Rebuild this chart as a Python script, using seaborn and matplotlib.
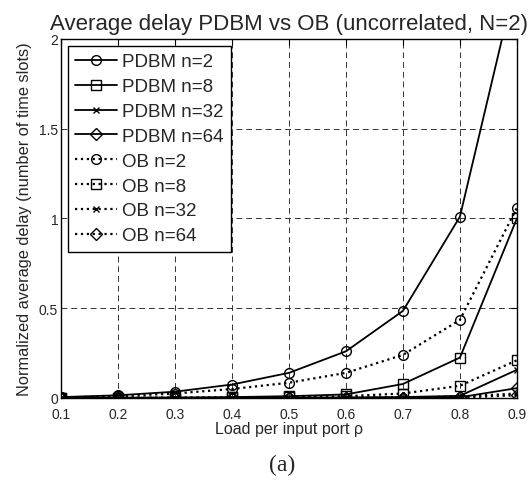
import numpy as np
import pandas as pd
import matplotlib
matplotlib.use("Agg")
import matplotlib.pyplot as plt
import seaborn as sns

sns.set_style("white")
plt.rcParams['font.family'] = ['Liberation Sans', 'DejaVu Sans']

load = [0.1, 0.2, 0.3, 0.4, 0.5, 0.6, 0.7, 0.8, 0.9]
pdbm_n2 = [0.005, 0.015, 0.035, 0.075, 0.14, 0.26, 0.485, 1.01, 2.35]
pdbm_n8 = [0.001, 0.002, 0.003, 0.005, 0.01, 0.02, 0.078, 0.225, 1.0]
pdbm_n32 = [0.0, 0.0, 0.0, 0.001, 0.002, 0.003, 0.005, 0.012, 0.157]
pdbm_n64 = [0.0, 0.0, 0.0, 0.0, 0.001, 0.001, 0.002, 0.004, 0.055]
ob_n2 = [0.003, 0.01, 0.025, 0.05, 0.085, 0.14, 0.24, 0.435, 1.06]
ob_n8 = [0.001, 0.001, 0.002, 0.003, 0.005, 0.01, 0.025, 0.068, 0.21]
ob_n32 = [0.0, 0.0, 0.0, 0.0, 0.001, 0.002, 0.003, 0.008, 0.025]
ob_n64 = [0.0, 0.0, 0.0, 0.0, 0.0, 0.001, 0.001, 0.003, 0.015]

series = [
    ("PDBM n=2", pdbm_n2, "o", "-"),
    ("PDBM n=8", pdbm_n8, "s", "-"),
    ("PDBM n=32", pdbm_n32, "x", "-"),
    ("PDBM n=64", pdbm_n64, "D", "-"),
    ("OB n=2", ob_n2, "o", ":"),
    ("OB n=8", ob_n8, "s", ":"),
    ("OB n=32", ob_n32, "x", ":"),
    ("OB n=64", ob_n64, "D", ":"),
]

fig = plt.figure(figsize=(5.28, 4.81), dpi=100)
ax = fig.add_axes([0.1155, 0.1705, 0.9790 - 0.1155, 0.917 - 0.1705])

for name, vals, mk, ls in series:
    df = pd.DataFrame({"x": load, "y": vals})
    ms = 6 if mk == "D" else (5 if mk == "x" else 7)
    sns.lineplot(data=df, x="x", y="y", ax=ax, color="black", linestyle=ls,
                 marker=mk, markersize=ms, markerfacecolor="none",
                 markeredgecolor="black", markeredgewidth=1.0,
                 linewidth=1.3 if ls == "-" else 1.6, label=name)

ax.set_xlim(0.1, 0.9)
ax.set_ylim(0, 2)
ax.set_xticks(load)
ax.set_xticklabels(["0.1", "0.2", "0.3", "0.4", "0.5", "0.6", "0.7", "0.8", "0.9"])
ax.set_yticks([0, 0.5, 1, 1.5, 2])
ax.set_yticklabels(["0", "0.5", "1", "1.5", "2"])
ax.tick_params(direction="in", length=4, top=True, right=True, labelsize=10,
               color="black", pad=2)
ax.tick_params(axis="x", pad=6.5)
ax.grid(True, color="#333333", linestyle=(0, (6, 4)), linewidth=0.7)
for s in ax.spines.values():
    s.set_color("black")
    s.set_linewidth(1.0)

ax.set_title("Average delay PDBM vs OB (uncorrelated, N=2)", fontsize=16, pad=7)
ax.set_xlabel("Load per input port \u03c1", fontsize=11.5, labelpad=0)
ax.set_ylabel("Normalized average delay (number of time slots)", fontsize=11.8, labelpad=5)

leg = ax.legend(loc="upper left", fontsize=13.5, frameon=True, fancybox=False,
                edgecolor="black", framealpha=1, borderaxespad=0.37,
                labelspacing=0.41, handlelength=2.2, handletextpad=0.27,
                borderpad=0.4)
leg.get_frame().set_linewidth(1.0)

fig.text(0.534, 0.033, "(a)", fontsize=17, family=["Liberation Serif"],
         ha="center", va="center")

fig.savefig("out.png", dpi=100)
